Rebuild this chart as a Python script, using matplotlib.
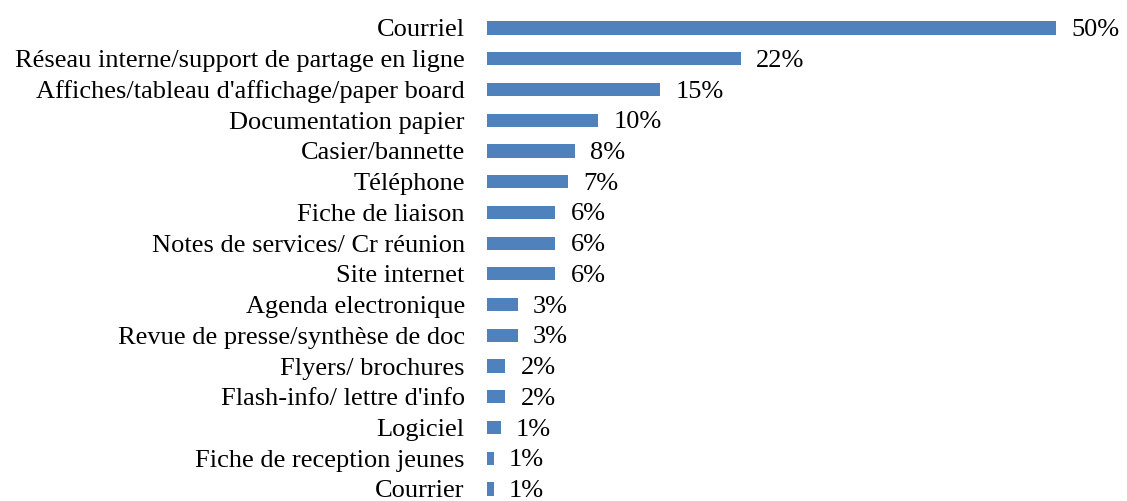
import matplotlib.pyplot as plt

categories = [
    "Courriel",
    "Réseau interne/support de partage en ligne",
    "Affiches/tableau d'affichage/paper board",
    "Documentation papier",
    "Casier/bannette",
    "Téléphone",
    "Fiche de liaison",
    "Notes de services/ Cr réunion",
    "Site internet",
    "Agenda electronique",
    "Revue de presse/synthèse de doc",
    "Flyers/ brochures",
    "Flash-info/ lettre d'info",
    "Logiciel",
    "Fiche de reception jeunes",
    "Courrier",
]
values = [50, 22.3, 15.2, 9.75, 7.7, 7.1, 6.0, 6.0, 6.0, 2.7, 2.7, 1.6, 1.6, 1.2, 0.6, 0.6]

plt.rcParams["font.family"] = ["Liberation Serif", "DejaVu Serif"]

W, H = 1127, 501
fig = plt.figure(figsize=(W / 100, H / 100), dpi=100)
ax = fig.add_axes([487 / W, 0, 569 / W, 1])

pos = list(range(len(categories)))
bars = ax.barh(pos, values, height=0.43, color="#4F81BD")

for b, v in zip(bars, values):
    ax.annotate(f"{round(v + 1e-9):.0f}%", (b.get_width(), b.get_y() + b.get_height() / 2),
                xytext=(11, -1.5), textcoords="offset points",
                va="center", ha="left", fontsize=19, color="black")

row = 30.73
top = -28 / row
ax.set_xlim(0, 50)
ax.set_ylim(top + H / row, top)
ax.set_yticks(pos)
ax.set_yticklabels(categories, fontsize=19)
ax.tick_params(axis="y", length=0, pad=16)
ax.set_xticks([])
for s in ax.spines.values():
    s.set_visible(False)

fig.savefig("out.png", dpi=100)
